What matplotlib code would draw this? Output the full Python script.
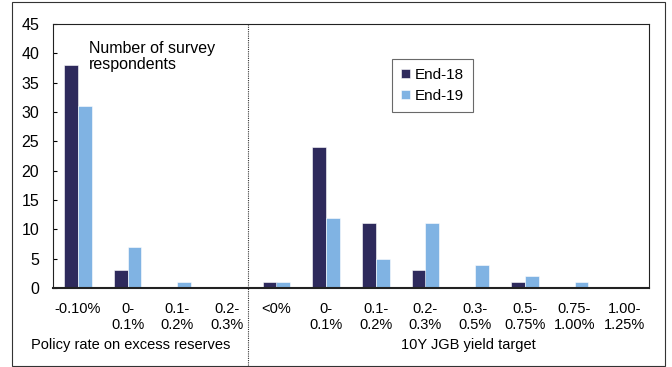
import numpy as np
import matplotlib.pyplot as plt
from matplotlib.patches import Rectangle
import matplotlib.transforms as mtransforms

plt.rcParams['font.family'] = ['Liberation Sans', 'DejaVu Sans']

categories = ['-0.10%', '0-\n0.1%', '0.1-\n0.2%', '0.2-\n0.3%',
              '<0%', '0-\n0.1%', '0.1-\n0.2%', '0.2-\n0.3%',
              '0.3-\n0.5%', '0.5-\n0.75%', '0.75-\n1.00%', '1.00-\n1.25%']
end18 = [38, 3, 0, 0, 1, 24, 11, 3, 0, 1, 0, 0]
end19 = [31, 7, 1, 0, 1, 12, 5, 11, 4, 2, 1, 0]

dark = '#2e2a5c'
light = '#80b3e3'

W, H = 672, 367
fig = plt.figure(figsize=(W / 100, H / 100), dpi=100)
ax = fig.add_axes([53 / W, 1 - 288 / H, 596 / W, 264 / H])

x = np.arange(len(categories))
bw = 0.28
ax.bar(x - bw / 2, end18, bw, color=dark, edgecolor='white', linewidth=0.4, label='End-18')
ax.bar(x + bw / 2, end19, bw, color=light, edgecolor='white', linewidth=0.4, label='End-19')

ax.set_xlim(-0.5, len(categories) - 0.5)
ax.set_ylim(0, 45)
ax.set_yticks(range(0, 46, 5))
ax.set_xticks(x)
ax.set_xticklabels(categories, fontsize=10.5)
ax.tick_params(axis='x', length=0, pad=10)
ax.tick_params(axis='y', direction='in', length=3, labelsize=11.5, pad=10)
for s in ax.spines.values():
    s.set_linewidth(0.8)
    s.set_color('#222222')
ax.spines['bottom'].set_linewidth(1.5)

# dotted divider between the two groups
trans = mtransforms.blended_transform_factory(ax.transData, ax.transAxes)
ax.plot([3.42, 3.42], [1, -0.295], transform=trans, color='#333333',
        linestyle=(0, (1, 1)), linewidth=0.8, clip_on=False)

leg = ax.legend(loc='upper left', bbox_to_anchor=(0.569, 0.867), fontsize=11,
                frameon=True, fancybox=False, edgecolor='#444444',
                borderaxespad=0, handlelength=0.55, handleheight=0.55,
                handletextpad=0.35, borderpad=0.6, labelspacing=0.45)
leg.get_frame().set_linewidth(0.8)

fig.text(89 / W, 1 - 41 / H, 'Number of survey\nrespondents', fontsize=11.5,
         va='top', ha='left', linespacing=1.1)
fig.text(131 / W, 1 - 345 / H, 'Policy rate on excess reserves', fontsize=10.5,
         ha='center', va='center')
fig.text(468 / W, 1 - 345 / H, '10Y JGB yield target', fontsize=10.5,
         ha='center', va='center')

fig.patches.append(Rectangle((12 / W, 1 / H), 653 / W, 364 / H, transform=fig.transFigure,
                             fill=False, edgecolor='#333333', linewidth=0.8))

fig.savefig('out.png', dpi=100)
